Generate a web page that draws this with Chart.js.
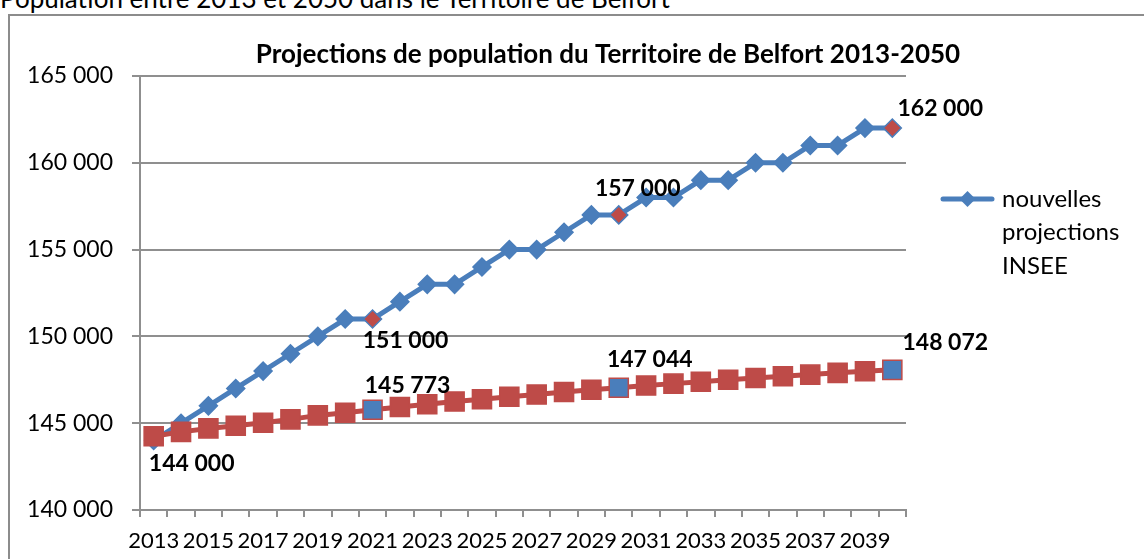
<!DOCTYPE html>
<html><head><meta charset="utf-8">
<script src="https://cdn.jsdelivr.net/npm/chart.js@4.4.1/dist/chart.umd.min.js"></script>
<style>
html,body{margin:0;padding:0;overflow:hidden;background:#fff;width:1144px;height:559px;}
#top{position:absolute;left:0;top:-15px;font-family:Lato;font-size:26px;line-height:26px;white-space:nowrap;color:#000}
#frame{position:absolute;left:8px;top:14px;width:1196px;height:560px;border:2px solid #8c8c8c;background:#fff}
canvas{display:block}
</style></head><body>
<div id="top">Population entre 2013 et 2050 dans le Territoire de Belfort</div>
<div id="frame"><canvas id="c" width="1196" height="560"></canvas></div>
<script>
// ---- data ----
const years = ['2013','2014','2015','2016','2017','2018','2019','2020','2021','2022','2023','2024','2025','2026',
               '2027','2028','2029','2030','2031','2032','2033','2034','2035','2036','2037','2038','2039','2040'];
const inseeNew = [144000,145000,146000,147000,148000,149000,150000,151000,151000,152000,153000,153000,154000,155000,
                  155000,156000,157000,157000,158000,158000,159000,159000,160000,160000,161000,161000,162000,162000];
const previous = [144250,144500,144700,144850,145030,145220,145450,145600,145773,145930,146090,146250,146380,146520,
                  146650,146800,146930,147044,147170,147280,147390,147500,147600,147700,147800,147900,147990,148072];
const yTicks = [140000,145000,150000,155000,160000,165000];
const seriesNames = ['nouvelles projections INSEE','projections précédentes'];
const legendLines = ['nouvelles','projections','INSEE'];
const chartTitle = 'Projections de population du Territoire de Belfort 2013-2050';
const highlighted = [8,17,27];
const labelledNew = [0,8,17,27];
const labelledPrev = [8,17,27];

// ---- styles ----
const BLUE = '#4A7EBB', RED = '#BE4B48', GRID = '#8f8f8f';
const FONT = 'Lato';
const labelOffsetsNew = [[38,23],[33,22],[19,-26],[48,-20]];
const labelOffsetsPrev = [[35,-24],[31,-28],[53,-27]];

const fmt = v => String(Math.round(v)).replace(/\B(?=(\d{3})+(?!\d))/g, ' ');

// legend marker: line with diamond
const legendImg = document.createElement('canvas');
legendImg.width = 55; legendImg.height = 20;
(function(){
  const g = legendImg.getContext('2d');
  g.strokeStyle = BLUE; g.lineWidth = 5; g.lineCap = 'round';
  g.beginPath(); g.moveTo(3,10); g.lineTo(52,10); g.stroke();
  g.fillStyle = BLUE; g.beginPath();
  g.moveTo(27.5,2); g.lineTo(35.5,10); g.lineTo(27.5,18); g.lineTo(19.5,10); g.closePath(); g.fill();
})();

const LEG_SIZE = 24, LEG_PAD = 39, LEG_BOX = 45;
const m = document.createElement('canvas').getContext('2d');
m.font = LEG_SIZE + 'px ' + FONT;
const longest = legendLines.reduce((a,b)=> a.length > b.length ? a : b);
const legendW = LEG_PAD + LEG_BOX + LEG_SIZE/2 + m.measureText(longest).width + 10;
const CANVAS_W = 1196, PLOT_LEFT = 130, PLOT_RIGHT = 896;
const spacerW = Math.max(0, CANVAS_W - PLOT_RIGHT - legendW);  // empty room right of the legend

const pointLabels = {
  id:'pointLabels',
  afterDatasetsDraw(chart){
    const ctx = chart.ctx;
    ctx.save();
    ctx.font = 'bold 23px ' + FONT;
    ctx.fillStyle = '#000'; ctx.textAlign = 'center'; ctx.textBaseline = 'middle';
    const specs = [[0, labelledNew, labelOffsetsNew],[1, labelledPrev, labelOffsetsPrev]];
    specs.forEach(([ds, idxs, offs]) => {
      const meta = chart.getDatasetMeta(ds);
      idxs.forEach((i,k) => {
        const p = meta.data[i];
        ctx.fillText(fmt(chart.data.datasets[ds].data[i]), p.x + offs[k][0], p.y + offs[k][1]);
      });
    });
    ctx.restore();
  }
};

new Chart(document.getElementById('c'), {
  type:'line',
  data:{
    labels: years,
    datasets:[
      {label: seriesNames[0], data: inseeNew, borderColor: BLUE, borderWidth: 5, tension: 0,
       borderJoinStyle:'round', pointStyle:'rectRot', pointRadius: 9,
       pointBackgroundColor: c => highlighted.includes(c.dataIndex) ? RED : BLUE,
       pointBorderColor: BLUE, pointBorderWidth: 1.5, order: 2},
      {label: seriesNames[1], data: previous, borderColor: RED, borderWidth: 5, tension: 0,
       borderJoinStyle:'round', pointStyle:'rect', pointRadius: 13.5,
       pointBackgroundColor: c => highlighted.includes(c.dataIndex) ? BLUE : RED,
       pointBorderColor: RED, pointBorderWidth: 1.5, order: 1}
    ]
  },
  options:{
    responsive:false, animation:false, devicePixelRatio:1,
    layout:{padding:{left:0, right:0, top:0, bottom:16}},
    plugins:{
      title:{display:true, text: chartTitle, color:'#000',
             font:{family:FONT, size:26, weight:'bold', lineHeight:1.2}, padding:{top:23.5, bottom:5.3}},
      legend:{display:true, position:'right', fullSize:false, align:'start', maxWidth: 400,
        title:{display:true, text:' ', font:{size:10, lineHeight:1}, padding:{top:62, bottom:0}},
        labels:{usePointStyle:true, pointStyleWidth:LEG_BOX, padding:LEG_PAD, color:'#000',
          font:{family:FONT, size:LEG_SIZE, lineHeight:1.4},
          generateLabels: () => [{text: legendLines, pointStyle: legendImg, datasetIndex:0,
             fillStyle: BLUE, strokeStyle: BLUE, lineWidth: 0, hidden:false, fontColor:'#000'}]}
      },
      tooltip:{enabled:false}
    },
    scales:{
      x:{type:'category', offset:true,
         grid:{offset:true, drawOnChartArea:false, drawTicks:true, tickLength:7, color:GRID, lineWidth:2},
         border:{display:true, color:GRID, width:2},
         ticks:{autoSkip:false, maxRotation:0, minRotation:0, padding:11, color:'#000',
                font:{family:FONT, size:22}, callback:(v,i) => i % 2 === 0 ? years[i] : ''},
         afterFit: s => { s.height = 50; }},
      y:{min: yTicks[0], max: yTicks[yTicks.length-1],
         afterBuildTicks: s => { s.ticks = yTicks.map(v => ({value: v})); },
         grid:{color:GRID, lineWidth:2, tickLength:8},
         border:{display:true, color:GRID, width:2},
         ticks:{padding:19, color:'#000', font:{family:FONT, size:23}, callback: v => fmt(v)},
         afterFit: s => { s.width = PLOT_LEFT; }},
      spacer:{type:'linear', position:'right', weight:2000, display:true,
         grid:{display:false}, border:{display:false}, ticks:{display:false},
         afterFit: s => { s.width = spacerW; }}
    }
  },
  plugins:[pointLabels]
});
</script>
</body></html>
